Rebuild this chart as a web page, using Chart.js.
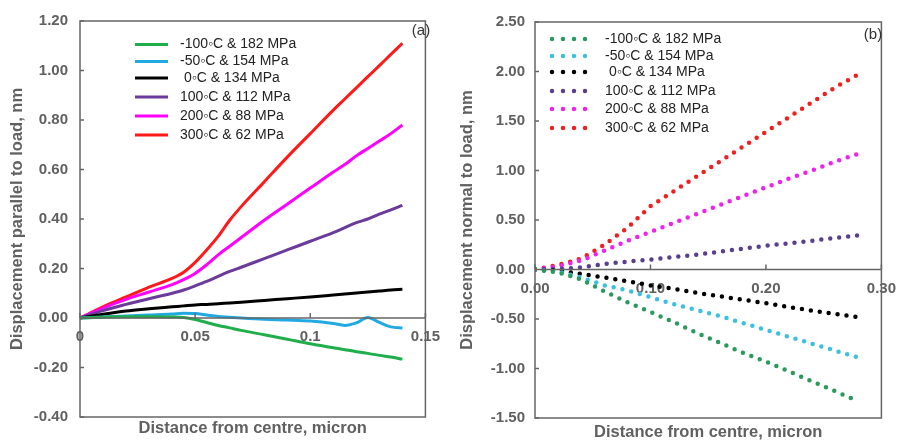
<!DOCTYPE html>
<html>
<head>
<meta charset="utf-8">
<script src="https://cdn.jsdelivr.net/npm/chart.js@4.4.0/dist/chart.umd.min.js"></script>
<style>
  html, body { margin: 0; padding: 0; background: #fff; }
  #wrap { display: flex; width: 906px; height: 441px; }
</style>
</head>
<body>
<div id="wrap">
  <canvas id="chartA" width="450" height="441"></canvas>
  <canvas id="chartB" width="456" height="441"></canvas>
</div>
<script>
// legenda / séries
const seriesLabels = ['-100\u25E6C & 182 MPa', '-50\u25E6C & 154 MPa', ' 0\u25E6C & 134 MPa',
                      '100\u25E6C & 112 MPa', '200\u25E6C & 88 MPa', '300\u25E6C & 62 MPa'];
const lineColors = ['#1fae4b', '#21a9e1', '#000000', '#6a3a9c', '#ff00ff', '#ff1a1a'];
const dotColors  = ['#2a9a5c', '#3cc0e0', '#000000', '#5b3f8f', '#f020f0', '#ee2020'];
const xTitle = 'Distance from centre, micron';

// (a) deslocamento paralelo à carga
const xA = [0, 0.01, 0.02, 0.03, 0.04, 0.045, 0.05, 0.055, 0.06, 0.065, 0.07,
            0.08, 0.09, 0.10, 0.11, 0.115, 0.12, 0.125, 0.13, 0.135, 0.14];
const greenA   = [0, 0.003, 0.005, 0.005, 0.004, 0.002, -0.006, -0.018, -0.03, -0.04, -0.05,
                  -0.068, -0.086, -0.104, -0.12, -0.128, -0.136, -0.143, -0.151, -0.158, -0.166];
const cyanA    = [0, 0.004, 0.008, 0.012, 0.016, 0.019, 0.018, 0.012, 0.006, 0.003, 0.0,
                  -0.005, -0.008, -0.012, -0.022, -0.03, -0.02, 0.002, -0.018, -0.036, -0.04];
const blackA   = [0, 0.015, 0.028, 0.037, 0.045, 0.049, 0.053, 0.055, 0.058, 0.061, 0.064,
                  0.071, 0.078, 0.085, 0.093, 0.097, 0.101, 0.105, 0.109, 0.113, 0.116];
const purpleA  = [0, 0.03, 0.055, 0.078, 0.10, 0.113, 0.13, 0.148, 0.168, 0.188, 0.205,
                  0.24, 0.275, 0.31, 0.345, 0.365, 0.385, 0.40, 0.42, 0.437, 0.455];
const magentaA = [0, 0.04, 0.075, 0.105, 0.135, 0.155, 0.18, 0.215, 0.255, 0.29, 0.325,
                  0.395, 0.46, 0.525, 0.59, 0.62, 0.655, 0.685, 0.715, 0.745, 0.78];
const redA     = [0, 0.045, 0.085, 0.125, 0.16, 0.185, 0.225, 0.275, 0.33, 0.395, 0.45,
                  0.55, 0.65, 0.745, 0.84, 0.885, 0.93, 0.975, 1.02, 1.065, 1.11];
const xTicksA  = [0, 0.05, 0.1, 0.15];
const xLabelsA = ['0', '0.05', '0.1', '0.15'];
const yTicksA  = [-0.4, -0.2, 0, 0.2, 0.4, 0.6, 0.8, 1.0, 1.2];
const yLabelsA = ['-0.40', '-0.20', '0.00', '0.20', '0.40', '0.60', '0.80', '1.00', '1.20'];

// (b) deslocamento normal à carga
const xB = [0, 0.02, 0.04, 0.06, 0.08, 0.10, 0.12, 0.14, 0.16, 0.18, 0.20, 0.22, 0.24, 0.26, 0.28];
const greenB   = [0, -0.03, -0.10, -0.22, -0.33, -0.43, -0.53, -0.64, -0.74, -0.84, -0.93, -1.03, -1.13, -1.23, -1.33];
const cyanB    = [0, -0.02, -0.08, -0.16, -0.21, -0.28, -0.35, -0.41, -0.47, -0.54, -0.61, -0.68, -0.75, -0.82, -0.89];
const blackB   = [0, -0.01, -0.045, -0.08, -0.12, -0.16, -0.195, -0.235, -0.27, -0.305, -0.34, -0.38, -0.415, -0.45, -0.48];
const purpleB  = [0, 0.005, 0.02, 0.055, 0.08, 0.10, 0.125, 0.15, 0.18, 0.21, 0.24, 0.265, 0.29, 0.32, 0.345];
const magentaB = [0, 0.03, 0.09, 0.19, 0.29, 0.38, 0.47, 0.56, 0.65, 0.74, 0.83, 0.92, 1.00, 1.09, 1.17];
const redB     = [0, 0.045, 0.11, 0.25, 0.42, 0.64, 0.79, 0.94, 1.09, 1.24, 1.39, 1.54, 1.69, 1.84, 1.97];
const xTicksB  = [0, 0.1, 0.2, 0.3];
const xLabelsB = ['0.00', '0.10', '0.20', '0.30'];
const yTicksB  = [-1.5, -1.0, -0.5, 0, 0.5, 1.0, 1.5, 2.0, 2.5];
const yLabelsB = ['-1.50', '-1.00', '-0.50', '0.00', '0.50', '1.00', '1.50', '2.00', '2.50'];

Chart.defaults.font.family = '"Liberation Sans", Arial, sans-serif';
const axisGrey = '#606060';
const frameGrey = '#666666';

function toPoints(xs, ys) {
    return xs.map((x, i) => ({ x: x, y: ys[i] }));
}

// moldura, marcas internas, linha do zero, título do eixo x, rótulo (a)/(b) e legenda
const panelPlugin = {
    id: 'panel',
    afterDatasetsDraw(chart, args, opts) {
        const { ctx, chartArea: a, scales } = chart;
        ctx.save();
        ctx.strokeStyle = frameGrey;
        ctx.lineWidth = 1.5;
        ctx.strokeRect(a.left, a.top, a.right - a.left, a.bottom - a.top);
        const zy = scales.y.getPixelForValue(0);
        ctx.beginPath();
        ctx.moveTo(a.left, zy);
        ctx.lineTo(a.right, zy);
        scales.y.ticks.forEach(t => {
            const py = scales.y.getPixelForValue(t.value);
            ctx.moveTo(a.left, py);
            ctx.lineTo(a.left + 4, py);
        });
        scales.x.ticks.forEach(t => {
            const px = scales.x.getPixelForValue(t.value);
            ctx.moveTo(px, zy);
            ctx.lineTo(px, zy - 5);
        });
        ctx.stroke();

        // título do eixo x, centrado na área do gráfico
        ctx.fillStyle = axisGrey;
        ctx.font = 'bold 16.5px "Liberation Sans", Arial, sans-serif';
        ctx.textAlign = 'center';
        ctx.textBaseline = 'middle';
        ctx.fillText(xTitle, (a.left + a.right) / 2, opts.titleY);

        ctx.fillStyle = '#333';
        ctx.font = '15px "Liberation Sans", Arial, sans-serif';
        ctx.fillText(opts.letter, opts.letterX, opts.letterY);

        ctx.textAlign = 'left';
        ctx.font = '14px "Liberation Sans", Arial, sans-serif';
        chart.data.datasets.forEach((ds, i) => {
            const y = opts.rows[i];
            ctx.strokeStyle = ds.borderColor;
            ctx.lineWidth = ds.borderWidth;
            ctx.lineCap = ds.borderCapStyle || 'butt';
            ctx.setLineDash(opts.sampleDash);
            ctx.beginPath();
            ctx.moveTo(opts.sampleX, y);
            ctx.lineTo(opts.sampleX + opts.sampleLen, y);
            ctx.stroke();
            ctx.setLineDash([]);
            ctx.fillStyle = '#222';
            ctx.fillText(ds.label, opts.textX, y);
        });
        ctx.restore();
    }
};

function makeScales(xTicks, xLabels, xMax, yTicks, yLabels, yTitle, yWidth, yPad) {
    const tickFont = { size: 15, weight: 'bold' };
    return {
        x: {
            type: 'linear', min: 0, max: xMax, position: { y: 0 },
            afterBuildTicks: s => { s.ticks = xTicks.map(v => ({ value: v })); },
            grid: { display: false, drawTicks: false },
            border: { display: false },
            ticks: { padding: 10, color: axisGrey, font: tickFont, maxRotation: 0, autoSkip: false,
                     callback: (v, i) => xLabels[i] }
        },
        y: {
            type: 'linear', min: yTicks[0], max: yTicks[yTicks.length - 1],
            afterBuildTicks: s => { s.ticks = yTicks.map(v => ({ value: v })); },
            afterFit: s => { s.width = yWidth; },
            grid: { display: false, drawTicks: false },
            border: { display: false },
            ticks: { padding: yPad, color: axisGrey, font: tickFont, autoSkip: false,
                     callback: (v, i) => yLabels[i] },
            title: { display: true, text: yTitle, color: axisGrey,
                     font: { size: 16.5, weight: 'bold' }, padding: { top: 2, bottom: 4 } }
        }
    };
}

function baseOptions(scales, pad, panel) {
    return {
        responsive: false,
        animation: false,
        devicePixelRatio: 1,
        layout: { padding: pad },
        scales: scales,
        plugins: {
            legend: { display: false },
            tooltip: { enabled: false },
            panel: panel
        }
    };
}

// gráfico (a): linhas contínuas
const seriesA = [greenA, cyanA, blackA, purpleA, magentaA, redA];
new Chart(document.getElementById('chartA'), {
    type: 'line',
    data: {
        datasets: seriesA.map((ys, i) => ({
            label: seriesLabels[i],
            data: toPoints(xA, ys),
            borderColor: lineColors[i],
            borderWidth: 3,
            pointRadius: 0,
            cubicInterpolationMode: 'monotone',
            fill: false
        }))
    },
    options: baseOptions(
        makeScales(xTicksA, xLabelsA, 0.15, yTicksA, yLabelsA, 'Displacement parallel to load, nm', 74, 12),
        { left: 6, right: 16, top: 20, bottom: 24 },
        { letter: '(a)', letterX: 421, letterY: 31, titleY: 428,
          rows: [44.5, 61.5, 78, 97, 116, 135],
          sampleX: 135, sampleLen: 33, sampleDash: [], textX: 180 }
    ),
    plugins: [panelPlugin]
});

// gráfico (b): linhas pontilhadas
const seriesB = [greenB, cyanB, blackB, purpleB, magentaB, redB];
new Chart(document.getElementById('chartB'), {
    type: 'line',
    data: {
        datasets: seriesB.map((ys, i) => ({
            label: seriesLabels[i],
            data: toPoints(xB, ys),
            borderColor: dotColors[i],
            borderWidth: 4.5,
            borderDash: [0, 9],
            borderCapStyle: 'round',
            pointRadius: 0,
            tension: 0,
            fill: false
        }))
    },
    options: baseOptions(
        makeScales(xTicksB, xLabelsB, 0.3, yTicksB, yLabelsB, 'Displacement normal to load, nm', 79, 10),
        { left: 6, right: 18, top: 22, bottom: 23 },
        { letter: '(b)', letterX: 423, letterY: 35, titleY: 432,
          rows: [39, 56, 72, 91, 109, 128],
          sampleX: 102, sampleLen: 44, sampleDash: [0, 11], textX: 155 }
    ),
    plugins: [panelPlugin]
});
</script>
</body>
</html>
